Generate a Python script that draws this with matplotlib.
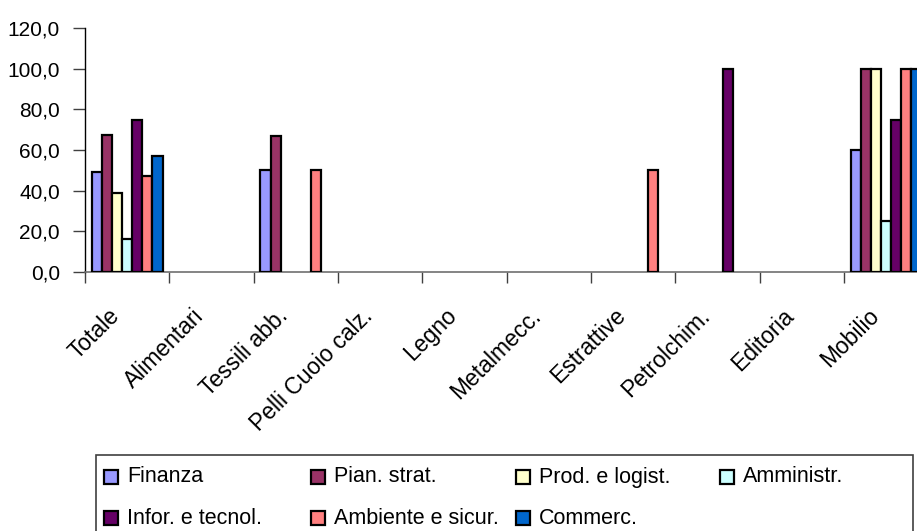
import matplotlib
matplotlib.use("Agg")
import matplotlib.pyplot as plt
from matplotlib.patches import Rectangle
from matplotlib.transforms import ScaledTranslation
import numpy as np

plt.rcParams['font.family'] = ['Liberation Sans', 'DejaVu Sans']

categories = ["Totale", "Alimentari", "Tessili abb.", "Pelli Cuoio calz.", "Legno",
              "Metalmecc.", "Estrattive", "Petrolchim.", "Editoria", "Mobilio"]

series_names = ["Finanza", "Pian. strat.", "Prod. e logist.", "Amministr.",
                "Infor. e tecnol.", "Ambiente e sicur.", "Commerc."]

finanza     = [49.3, 0, 50.0, 0, 0, 0, 0, 0, 0, 60.0]
pian_strat  = [67.4, 0, 66.7, 0, 0, 0, 0, 0, 0, 100.0]
prod_logist = [38.7, 0, 0, 0, 0, 0, 0, 0, 0, 100.0]
amministr   = [16.2, 0, 0, 0, 0, 0, 0, 0, 0, 25.0]
infor_tecn  = [75.0, 0, 0, 0, 0, 0, 0, 100.0, 0, 75.0]
ambiente    = [47.4, 0, 50.0, 0, 0, 0, 50.0, 0, 0, 100.0]
commerc     = [56.9, 0, 0, 0, 0, 0, 0, 0, 0, 100.0]

series_values = [finanza, pian_strat, prod_logist, amministr, infor_tecn, ambiente, commerc]
colors = ["#9999FF", "#993366", "#FFFFCC", "#CCFFFF", "#660066", "#FF8080", "#0066CC"]

y_ticks = [0, 20, 40, 60, 80, 100, 120]
y_tick_labels = ["0,0", "20,0", "40,0", "60,0", "80,0", "100,0", "120,0"]

W, H = 917, 531
fig = plt.figure(figsize=(W / 100, H / 100), dpi=100)
ax = fig.add_axes([85 / W, (H - 272) / H, 843.3 / W, 244 / H])

n_cat = len(categories)
bar_w = 0.12
group_start = 0.08
for s, (vals, col) in enumerate(zip(series_values, colors)):
    for i, v in enumerate(vals):
        if v > 0:
            ax.bar(i + group_start + s * bar_w, v, width=bar_w, align='edge',
                   color=col, edgecolor='black', linewidth=1.6, zorder=3)

ax.set_xlim(0, n_cat)
ax.set_ylim(0, 120)

for side in ("top", "right"):
    ax.spines[side].set_visible(False)
ax.spines["left"].set_color("black")
ax.spines["left"].set_linewidth(1.0)
ax.spines["bottom"].set_color("#707070")
ax.spines["bottom"].set_linewidth(1.2)

ax.set_yticks(y_ticks)
ax.set_yticklabels(y_tick_labels, fontsize=15)
ax.tick_params(axis='y', direction='out', length=9, width=1, color='#404040', pad=9)

# category boundaries carry the tick marks, centres carry the labels
ax.set_xticks(np.arange(0, n_cat + 1))
ax.set_xticklabels([])
ax.tick_params(axis='x', which='major', direction='out', length=8, width=1, color='#404040')
ax.set_xticks(np.arange(n_cat) + 0.5, minor=True)
ax.set_xticklabels(categories, minor=True, rotation=45, ha='right', va='center',
                   rotation_mode='anchor', fontsize=16.5)
ax.tick_params(axis='x', which='minor', length=0, pad=29)
shift = ScaledTranslation(-0.11, 0, fig.dpi_scale_trans)
for lbl in ax.get_xticklabels(minor=True):
    lbl.set_transform(lbl.get_transform() + shift)

# legend frame and entries
fig.patches.append(Rectangle((96 / W, -0.05), (913 - 96) / W, 0.05 + (H - 455) / H,
                             transform=fig.transFigure, facecolor='white',
                             edgecolor='#404040', linewidth=1.2, zorder=1))
col_x = [104, 311, 516, 720]
row_y = [477, 518]
msize = 14
for k, (name, col) in enumerate(zip(series_names, colors)):
    r, c = divmod(k, 4)
    x0, yc = col_x[c], row_y[r]
    fig.patches.append(Rectangle((x0 / W, (H - yc - msize / 2) / H), msize / W, msize / H,
                                 transform=fig.transFigure, facecolor=col,
                                 edgecolor='black', linewidth=1.6, zorder=2))
    fig.text((x0 + 23) / W, (H - yc) / H, name, fontsize=15.5, va='center', ha='left')

fig.savefig("out.png", dpi=100)
